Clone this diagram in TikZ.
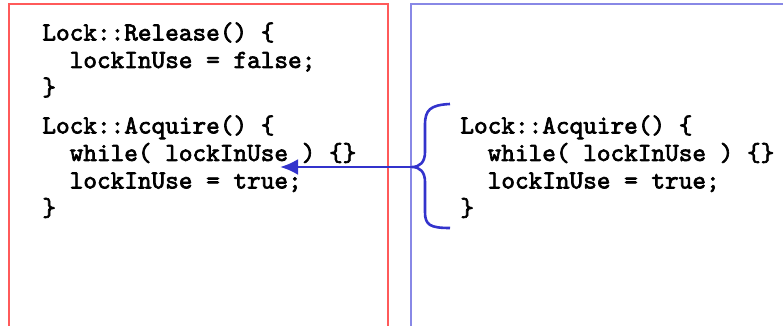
\documentclass[tikz,border=0pt]{standalone}
\usepackage{fontspec}
\newfontfamily\codefont{lmmono10-regular}[Extension=.otf, FakeBold=2.5]
\usetikzlibrary{positioning,calc,arrows.meta}
\definecolor{codeblue}{RGB}{51,51,204}
\definecolor{frameblue}{RGB}{136,136,230}
\definecolor{framered}{RGB}{255,90,90}

\begin{document}
\begin{tikzpicture}[
    x=0.5pt, y=-0.5pt,
    code/.style={anchor=north west, inner sep=0pt, align=left, font=\codefont\fontsize{13}{13.75}\selectfont},
    redframe/.style={draw=framered, line width=0.6pt},
    blueframe/.style={draw=frameblue, line width=0.6pt},
    arrow/.style={-{Latex[length=9pt,width=8pt]}, draw=codeblue, line width=1.4pt},
    bracket/.style={draw=codeblue, line width=1.3pt}
]
\useasboundingbox (0,0) rectangle (783,326);

% Frames
\draw[redframe] (9,326) -- (9,4) -- (388,4) -- (388,326);
\draw[blueframe] (411,326) -- (411,4) -- (783,4);

% Left code
\node[code] (release) at (42,22) {Lock::Release() \{\\\ \ lockInUse = false;\\\}};
\node[code] (acquire) at (42,115) {Lock::Acquire() \{\\\ \ while( lockInUse ) \{\}\\\ \ lockInUse = true;\\\}};

% Right code
\node[code] (acquirecopy) at (460,115) {Lock::Acquire() \{\\\ \ while( lockInUse ) \{\}\\\ \ lockInUse = true;\\\}};

% Brace
\coordinate (tip) at (412,167);
\draw[bracket] (450,104) .. controls (430,105) and (425,110) .. (425,125)
  -- (425,152) .. controls (425,162) and (420,167) .. (tip)
  .. controls (420,167) and (425,172) .. (425,182)
  -- (425,212) .. controls (425,225) and (430,228) .. (450,228);

% Arrow
\coordinate (target) at (280,167);
\draw[arrow] (tip) -- (target);

\end{tikzpicture}
\end{document}
